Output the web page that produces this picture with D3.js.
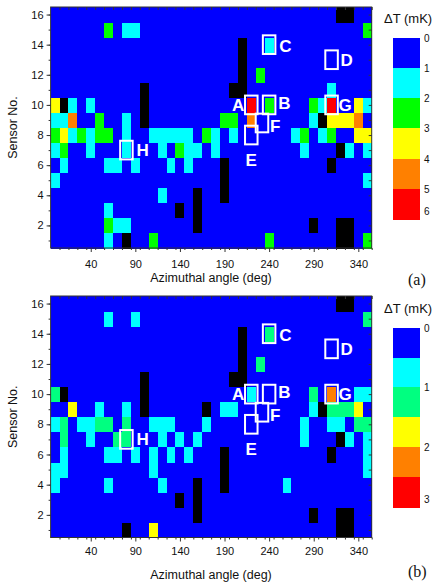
<!DOCTYPE html>
<meta charset="utf-8">
<script src="https://d3js.org/d3.v7.min.js"></script>
<style>
body { margin: 0; background: #fff; }
text { font-family: Arial, "Liberation Sans", sans-serif; }
rect.cell, rect.band { shape-rendering: crispEdges; }
</style>
<div id="chart"></div>
<script>
// azimuth columns (deg) and sensor rows
var angles = [0,10,20,30,40,50,60,70,80,90,100,110,120,130,140,150,160,170,
              180,190,200,210,220,230,240,250,260,270,280,290,300,310,320,330,340,350];
var sensors = [1,2,3,4,5,6,7,8,9,10,11,12,13,14,15,16];
var xTicks = [40,90,140,190,240,290,340];
var yTicks = [2,4,6,8,10,12,14,16];

// panel (a): dT in mK, bands of 1 mK
var levelsA = [0,1,2,3,4,5,6];
var colorsA = ["#0000ff","#00ffff","#00ff00","#ffff00","#ff8000","#ff0000"];
var legTicksA = [0,1,2,3,4,5,6];
var baseA = 0.5;   // most cells sit in the lowest band
// [angle, sensor, dT]
var hotA = [
  [60,15,2.5],[80,15,1.5],[90,15,1.5],[350,15,2.5],
  [240,14,1.5],
  [230,12,2.5],
  [310,11,1.5],
  [0,10,3.5],[20,10,1.5],[40,10,1.5],[220,10,5.5],[240,10,2.5],[290,10,2.5],[300,10,1.5],[310,10,5.5],[340,10,3.5],[350,10,1.5],
  [0,9,1.5],[10,9,1.5],[20,9,4.5],[50,9,2.5],[80,9,1.5],[190,9,2.5],[200,9,2.5],[220,9,4.5],[290,9,1.5],[310,9,3.5],[320,9,3.5],[330,9,3.5],[340,9,4.5],
  [0,8,2.5],[10,8,3.5],[20,8,1.5],[30,8,2.5],[40,8,1.5],[50,8,2.5],[60,8,2.5],[80,8,1.5],[110,8,1.5],[120,8,1.5],[130,8,1.5],[140,8,1.5],[150,8,1.5],[170,8,2.5],[180,8,1.5],[200,8,1.5],[270,8,1.5],[280,8,2.5],[300,8,1.5],[310,8,2.5],[340,8,3.5],[350,8,3.5],
  [0,7,1.5],[10,7,2.5],[40,7,1.5],[80,7,1.5],[120,7,1.5],[140,7,2.5],[150,7,1.5],[160,7,1.5],[180,7,1.5],[280,7,1.5],[330,7,1.5],[350,7,1.5],
  [10,6,1.5],[60,6,1.5],[70,6,1.5],[90,6,1.5],[130,6,1.5],[150,6,1.5],
  [0,5,1.5],[350,5,1.5],
  [120,4,1.5],
  [60,3,1.5],
  [60,2,2.5],[70,2,1.5],[80,2,1.5],
  [60,1,1.5],[110,1,2.5],[240,1,2.5],[350,1,2.5]
];
// [angle, sensor] with no reading
var gapA = [
  [320,16],[330,16],[210,14],[210,13],[210,12],[100,11],[200,11],[210,11],
  [10,10],[100,10],[100,9],[300,9],[320,7],[190,6],[310,6],[190,5],[160,4],[190,4],
  [140,3],[160,3],[160,2],[290,2],[320,2],[330,2],[80,1],[320,1],[330,1]
];

// panel (b): dT in mK, bands of 0.5 mK
var levelsB = [0,0.5,1,1.5,2,2.5,3];
var colorsB = ["#0000ff","#00ffff","#00ff80","#ffff00","#ff8000","#ff0000"];
var legTicksB = [0,1,2,3];
var baseB = 0.25;
var hotB = [
  [60,15,0.75],[90,15,0.75],[350,15,1.25],
  [240,14,1.25],
  [230,12,1.25],
  [0,10,1.25],[220,10,0.75],[290,10,1.25],[310,10,2.25],[340,10,0.75],[350,10,0.75],
  [20,9,1.75],[50,9,0.75],[80,9,0.75],[190,9,0.75],[200,9,0.75],[290,9,0.75],[310,9,1.25],[320,9,1.25],[330,9,1.25],[340,9,1.75],
  [0,8,0.75],[10,8,1.25],[30,8,0.75],[40,8,0.75],[50,8,1.25],[60,8,1.25],[80,8,1.25],[110,8,0.75],[120,8,0.75],[130,8,0.75],[170,8,0.75],[280,8,0.75],[310,8,0.75],[320,8,0.75],[340,8,1.25],[350,8,1.25],
  [10,7,1.25],[40,7,0.75],[70,7,1.25],[80,7,1.25],[120,7,0.75],[140,7,0.75],[160,7,0.75],[280,7,0.75],[330,7,0.75],[350,7,0.75],
  [10,6,0.75],[60,6,0.75],[70,6,0.75],[90,6,0.75],[110,6,0.75],[130,6,0.75],[150,6,0.75],[350,6,0.75],
  [0,5,0.75],[10,5,0.75],[110,5,0.75],[350,5,0.75],
  [0,4,0.75],[60,4,0.75],[120,4,0.75],[260,4,0.75],
  [110,1,1.75]
];
var gapB = [
  [320,16],[330,16],[210,14],[210,13],[210,12],[100,11],[200,11],[210,11],
  [10,10],[100,10],[100,9],[170,9],[300,9],[320,7],[190,6],[310,6],[190,5],[160,4],[190,4],
  [140,3],[160,3],[160,2],[290,2],[320,2],[330,2],[80,1],[320,1],[330,1]
];

// marked spots [name, angle, sensor]
var spots = [["A",220,10],["B",240,10],["C",240,14],["D",310,13],
             ["E",220,8],["F",232,8.8],["G",310,10],["H",80,7]];
// where each letter sits next to its box: anchor, dx, dy
var spotText = {A:["end",-7,6], B:["start",9,4], C:["start",10,7], D:["start",9,6],
                E:["middle",0,31], F:["start",8,9], G:["start",7,6], H:["start",10,6]};

var W = 441, H = 584;
var svg = d3.select("#chart").append("svg").attr("width", W).attr("height", H);

function buildGrid(base, hot, gap) {
  var lookup = {};
  hot.forEach(function(d){ lookup[d[0]+"_"+d[1]] = d[2]; });
  gap.forEach(function(d){ lookup[d[0]+"_"+d[1]] = null; });
  var cells = [];
  sensors.forEach(function(s){
    angles.forEach(function(a){
      var k = a+"_"+s;
      cells.push({a:a, s:s, v: (k in lookup) ? lookup[k] : base});
    });
  });
  return cells;
}

function drawPanel(cfg) {
  var x = d3.scaleLinear().domain([-5,355]).range([50.6,371.7]);
  var y = d3.scaleLinear().domain([0.5,16.5]).range([cfg.bottom, cfg.top]);
  var color = d3.scaleThreshold().domain(cfg.levels.slice(1,-1)).range(cfg.colors);
  var g = svg.append("g");

  g.selectAll("rect.cell")
    .data(buildGrid(cfg.base, cfg.hot, cfg.gap))
    .enter().append("rect")
      .attr("class","cell")
      .attr("x", function(d){ return x(d.a-5); })
      .attr("y", function(d){ return y(d.s+0.5); })
      .attr("width", function(d){ return x(d.a+5)-x(d.a-5)+0.5; })
      .attr("height", function(d){ return y(d.s-0.5)-y(d.s+0.5)+0.5; })
      .style("fill", function(d){ return d.v === null ? "#000" : color(d.v); });

  // frame
  g.append("rect")
    .attr("x", x(-5)).attr("y", cfg.top)
    .attr("width", x(355)-x(-5)).attr("height", cfg.bottom-cfg.top)
    .style("fill","none").style("stroke","#333").style("stroke-width",1);

  // axes
  var xa = g.append("g").attr("transform","translate(0,"+cfg.bottom+")")
    .call(d3.axisBottom(x).tickValues(xTicks).tickSize(4).tickPadding(cfg.xPad));
  xa.append("g").call(d3.axisBottom(x).tickValues(angles.map(function(a){return a+5;})).tickSize(2).tickFormat(""));
  var ya = g.append("g").attr("transform","translate("+x(-5)+",0)")
    .call(d3.axisLeft(y).tickValues(yTicks).tickSize(4).tickPadding(3));
  ya.append("g").call(d3.axisLeft(y).tickValues(sensors).tickSize(2).tickFormat(""));
  // inward mirror ticks on top and right
  g.append("g").attr("transform","translate(0,"+cfg.top+")")
    .call(d3.axisBottom(x).tickValues(angles.map(function(a){return a+5;})).tickSize(3).tickFormat(""));
  g.append("g").attr("transform","translate("+x(355)+",0)")
    .call(d3.axisLeft(y).tickValues(sensors).tickSize(3).tickFormat(""));
  g.selectAll(".domain").remove();
  g.selectAll(".tick line").style("stroke","#333");
  g.selectAll(".tick text").style("font-size","11px").style("fill","#111")
    .style("font-family","Arial, 'Liberation Sans', sans-serif");

  g.append("text")
    .attr("x", 211).attr("y", cfg.xTitleY)
    .attr("text-anchor","middle").style("font-size","12.5px").style("fill","#111")
    .text("Azimuthal angle (deg)");
  g.append("text")
    .attr("transform","translate(17,"+((cfg.top+cfg.bottom)/2)+") rotate(-90)")
    .attr("text-anchor","middle").style("font-size","12.5px").style("fill","#111")
    .text("Sensor No.");

  // marked spots
  var sg = g.selectAll("g.spot").data(spots).enter().append("g").attr("class","spot");
  sg.append("rect")
    .attr("x", function(d){ return x(d[1]-5)-1.8; })
    .attr("y", function(d){ return y(d[2]+0.5)-1.8; })
    .attr("width", function(d){ return x(d[1]+5)-x(d[1]-5)+3.6; })
    .attr("height", function(d){ return y(d[2]-0.5)-y(d[2]+0.5)+3.6; })
    .style("fill","none").style("stroke","#fff").style("stroke-width",2);
  sg.append("text")
    .attr("x", function(d){ return x(d[1]) + spotText[d[0]][1]; })
    .attr("y", function(d){ return y(d[2]) + spotText[d[0]][2]; })
    .attr("text-anchor", function(d){ return spotText[d[0]][0]; })
    .style("font-size","17px").style("font-weight","bold").style("fill","#fff")
    .text(function(d){ return d[0]; });

  // colour bar
  var lmax = cfg.levels[cfg.levels.length-1];
  var ly = d3.scaleLinear().domain([0,lmax]).range([cfg.legTop, cfg.legBottom]);
  var bands = cfg.colors.map(function(c,i){ return {lo:cfg.levels[i], hi:cfg.levels[i+1], c:c}; });
  g.selectAll("rect.band").data(bands).enter().append("rect")
    .attr("class","band")
    .attr("x", 393.3).attr("width", 26.7)
    .attr("y", function(d){ return ly(d.lo); })
    .attr("height", function(d){ return ly(d.hi)-ly(d.lo)+0.5; })
    .style("fill", function(d){ return d.c; });
  g.selectAll("text.leg").data(cfg.legTicks).enter().append("text")
    .attr("class","leg")
    .attr("x", 424)
    .attr("y", function(d){ return d === lmax ? ly(d)-4 : ly(d)+4; })
    .style("font-size","10px").style("fill","#111")
    .text(function(d){ return d; });
  g.append("text")
    .attr("x", 384).attr("y", cfg.legTop-15)
    .style("font-size","13px").style("fill","#111")
    .text("\u0394T (mK)");

  g.append("text")
    .attr("x", 408).attr("y", cfg.tagY)
    .style("font-family","'Liberation Serif', 'Times New Roman', serif")
    .style("font-size","16px").style("fill","#111")
    .text(cfg.tag);
}

drawPanel({top:7, bottom:248, base:baseA, hot:hotA, gap:gapA, levels:levelsA, colors:colorsA,
           legTicks:legTicksA, legTop:37.7, legBottom:219, xPad:8, xTitleY:282, tag:"(a)", tagY:285});
drawPanel({top:296, bottom:537.5, base:baseB, hot:hotB, gap:gapB, levels:levelsB, colors:colorsB,
           legTicks:legTicksB, legTop:327.7, legBottom:507, xPad:6, xTitleY:579, tag:"(b)", tagY:577});
</script>
